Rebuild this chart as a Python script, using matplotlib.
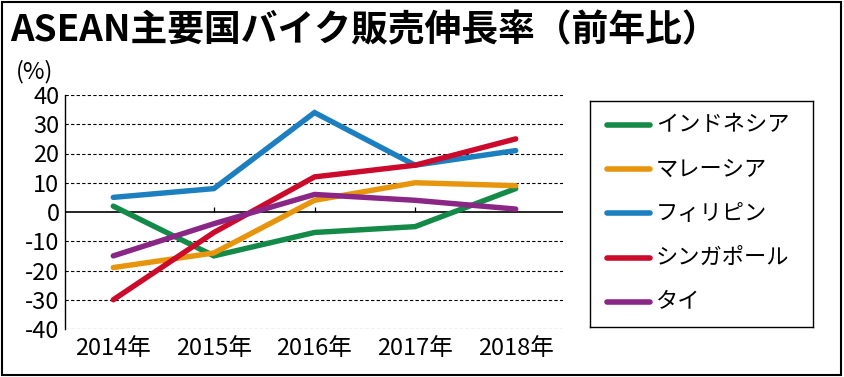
import numpy as np
import matplotlib.pyplot as plt
from matplotlib.patches import Rectangle

plt.rcParams['font.family'] = ['Noto Sans CJK JP', 'DejaVu Sans']
narrow = ['Liberation Sans Narrow', 'Noto Sans CJK JP']

years = ["2014年", "2015年", "2016年", "2017年", "2018年"]
names = ["インドネシア", "マレーシア", "フィリピン", "シンガポール", "タイ"]
indonesia = [2, -15, -7, -5, 8]
malaysia = [-19, -14, 4, 10, 9]
philippines = [5, 8, 34, 16, 21]
singapore = [-30, -7, 12, 16, 25]
thailand = [-15, -4, 6, 4, 1]
colors = ["#138a48", "#e8950e", "#1c7fbf", "#cc0a2c", "#8a2685"]

series = [indonesia, malaysia, philippines, singapore, thailand]

fig = plt.figure(figsize=(8.45, 3.77), dpi=100)
W, H = 845, 377
ax = fig.add_axes([65 / W, (H - 329) / H, (563 - 65) / W, (329 - 95) / H])

x = np.arange(len(years))
for vals, c in zip(series, colors):
    ax.plot(x, vals, color=c, lw=3.9, solid_capstyle='round', solid_joinstyle='miter', zorder=3)

ax.set_xlim(-0.48, 4.47)
ax.set_ylim(-40, 40)
ax.set_yticks(np.arange(-40, 41, 10))
ax.set_yticklabels([str(v) for v in range(-40, 41, 10)], fontsize=17, family=narrow)
ax.set_xticks(x)
ax.set_xticklabels(years, fontsize=17, family=narrow)
ax.tick_params(axis='y', length=0, pad=4)
ax.tick_params(axis='x', length=0, pad=6)
for s in ['top', 'right', 'bottom']:
    ax.spines[s].set_visible(False)
ax.spines['left'].set_linewidth(1.0)
for v in range(-40, 41, 10):
    if v != 0:
        ax.axhline(v, color='black', lw=0.8, ls=(0, (3, 2)), zorder=1)
ax.axhline(0, color='black', lw=1.2, zorder=2)
ax.vlines(x[1:4], 0, 1.6, color='black', lw=0.9, zorder=2)

# legend box
lg = fig.add_axes([590 / W, (H - 327) / H, (813 - 590) / W, (327 - 101) / H])
lg.set_xlim(590, 813)
lg.set_ylim(327, 101)
lg.set_xticks([])
lg.set_yticks([])
for s in lg.spines.values():
    s.set_linewidth(1.0)
for i, (n, c) in enumerate(zip(names, colors)):
    yy = 125 + i * 44.2
    lg.plot([607, 650], [yy, yy], color=c, lw=4, solid_capstyle='round')
    lg.text(656, yy, n, fontsize=16, va='center', ha='left')

fig.text(10 / W, 1 - 31 / H, "ASEAN主要国バイク販売伸長率（前年比）", fontsize=26.5,
         fontweight='bold', va='center', ha='left')
fig.text(16 / W, 1 - 72 / H, "(%)", fontsize=17, va='center', ha='left', family=narrow)

fig.patches.append(Rectangle((2 / W, 2 / H), 839 / W, 373 / H, transform=fig.transFigure,
                             fill=False, edgecolor='black', lw=1.5))

fig.savefig("out.png", dpi=100)
